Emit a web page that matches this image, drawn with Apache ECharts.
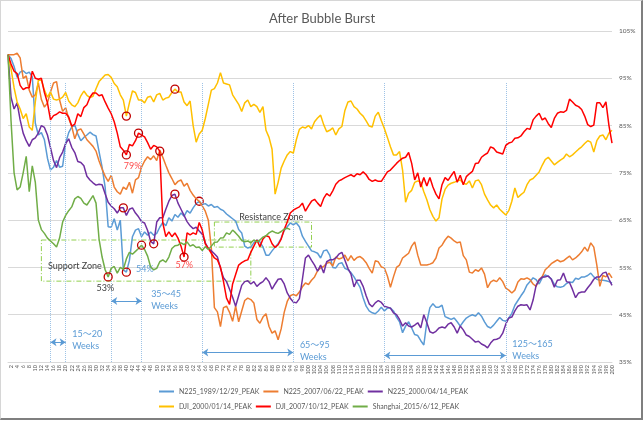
<!DOCTYPE html>
<html><head><meta charset="utf-8">
<script src="https://cdn.jsdelivr.net/npm/echarts@6.0.0/dist/echarts.min.js"></script>
<style>
html,body{margin:0;padding:0;background:#fff}
#c{width:644px;height:421px;position:absolute;left:0;top:0}
#f{position:absolute;left:0;top:0;width:640px;height:417px;border:1px solid #d6d6d6;border-right:2px solid #7f7f7f;border-bottom:2px solid #7f7f7f;pointer-events:none}
</style>
</head><body><div id="c"></div><div id="f"></div>
<script>
// ---- data ----
const weeks = Array.from({length: 200}, (_, i) => String(i + 1));
const yTicks = {min: 35, max: 105, step: 10};
const seriesNames = ['N225_1989/12/29_PEAK','N225_2007/06/22_PEAK','N225_2000/04/14_PEAK','DJI_2000/01/14_PEAK','DJI_2007/10/12_PEAK','Shanghai_2015/6/12_PEAK'];

const n225_1989 = [100,99.2,97.5,95.2,96.3,96.6,96,96.3,95.3,85.5,
 83,83.5,82,78.1,75.6,76.2,77.6,76.2,76.4,81.3,
 83.5,84.7,85.1,83.2,81.8,82.5,83,83.6,83.1,82.8,
 79.5,76.2,72,63.6,63.5,65.3,62.9,65,54.5,54,
 56.5,61.5,62.9,63.2,61.5,62.5,61.8,62.5,61.8,62.2,
 63.5,64.5,63.8,65.5,64.8,66.2,65.6,66.5,65.8,67,
 66.5,67.6,68.5,69,68.3,68.5,68,68.3,67.7,67.9,
 67.3,67,66.3,65.8,65.3,64.8,63,62.3,59.5,59.1,
 59.3,60.2,60.8,60.4,59.3,57.6,57.6,58.5,59.3,60,
 61.2,62.8,63.6,64.4,64,64.4,63.6,61.6,60.5,59.5,
 58.5,58.3,58,57,58.5,58.7,57.6,55,54.9,55.8,
 56,54.8,54.5,53.9,53,51.9,50.8,48.6,46.8,45.8,
 45.4,45.2,45.8,46.6,45.8,46.4,46.4,45.8,44.5,43.5,
 41.2,42.6,43.5,42.2,40.8,40.6,39.5,38.6,43.5,46.5,
 47.3,46.6,46.6,47,44.6,44.3,44,44.3,43.5,42.6,
 43.5,44.3,44.7,45,44.7,45.4,44.7,43.5,42.5,42.2,
 42.8,43.6,44.4,43.8,43.6,44.3,45.3,47,48,49,
 49.9,51.3,52,52.8,52.4,51.5,52.8,53.4,53.1,52.6,
 51.4,50.9,50.8,51,51.6,51.9,51.8,52.7,52.5,53,
 53,53.3,53.8,53,52.5,52.3,52.3,52.2,52,51.7];

const n225_2007 = [100,100,100,100.3,99.3,95,95.5,92.5,91,91.5,
 94,90.5,88.9,89.8,92.1,94,94.3,90.4,88,88.8,
 86.5,84.8,82.2,84,84.3,83.2,82,81.3,80.6,79.6,
 77.5,75.8,74.3,73.2,74.5,72,71,70.5,72,71.5,
 73,70.7,73.5,74,76.2,77.5,78.4,77.8,78.6,77.6,
 79.8,78.3,76.6,75,73.8,72.5,73.2,73.5,72.2,72.8,
 71.3,70.3,69.5,69,68,66.9,65,59,46.5,45.6,
 42.5,46.5,46.8,45.5,43.6,46.8,43.5,45.8,48,48.5,
 48.2,47.5,44,43.2,44.5,45.2,42.5,41.1,41.6,39.7,
 42,45.5,47.8,49,49.3,49,49.8,50.9,51.7,51.4,
 52.3,53,54.3,54.9,55.2,55.9,56.1,55.3,57.2,56.8,
 57,57.6,56.4,57.5,56.5,57.1,57.3,56.8,56,54.8,
 53.8,56.4,56.2,55.1,54.9,53.2,50.8,53,55,55.5,
 57,57.5,58,59.5,60.4,57.6,55.5,55.5,55.5,55.7,
 56,57,59.1,59.7,60.8,61.6,61.2,60.6,60.2,60.4,
 57.5,56.6,54,53.8,54.5,54.2,54.9,53.6,50.7,51.9,
 52.3,52,52.8,52,50.6,50.2,49.6,50.2,51.9,52.6,
 52.5,52.8,52.4,51.5,51,52.5,53,54.5,55.1,55.8,
 56.2,56.6,56.2,56.4,56.9,57.4,56.6,57,57.6,58.3,
 59.3,58.4,60.2,59.3,55.5,51,53.3,53,53.8,52.8];

const n225_2000 = [100,91,88.5,89.8,86.2,83.4,81.8,80.6,82,82.4,
 83.4,85,84.6,83,80.3,77.6,76.1,78.2,79.4,81.2,
 82.2,80.4,79.3,77.4,77.2,76.5,74.3,73.5,72.9,72.4,
 72.6,72.5,70.6,68.8,68,67.4,66.5,67.6,67.6,66,
 67.3,67.6,66.5,65.7,64.7,64.4,62.8,60.5,60,64.6,
 65.5,65.5,67.3,69,70.2,70.5,68.6,67.3,66,64.7,
 63.8,63.2,63.5,62.7,62,60.2,59,58.5,57.9,57.2,
 54.8,52.8,52,50.4,48.7,46.8,49,51.2,52,52.2,
 51.5,52,51,51.6,52,52.8,52,50.4,51.5,52.5,
 52.6,51.5,49.6,48.5,47.7,47.5,48.4,52.5,57,57.6,
 56.5,55.5,54.2,55.5,53.8,56.2,56.6,56.6,57,57.8,
 58.2,56.5,54.8,53.6,50.9,52.3,52.3,51,49,47.3,
 46.7,47.5,48,47.6,46.8,46.6,46.4,45.4,45,44,
 42.6,43.3,42.6,42.4,42.8,43.3,42.2,45,43.3,41.4,
 41.1,41.5,42.2,42.4,42.2,43,43.3,42.4,41.1,42.6,
 41.8,40.7,40.4,39.8,39.2,39.4,38.8,38.5,38,39,
 39.7,39.8,40.1,41.1,43,44.3,44.5,45.8,46.8,47.1,
 47,47.1,46,48.1,51.2,52.3,53,53,53.2,52.5,
 50.8,52.3,52.4,53.8,52,51.8,50.3,48.6,49.6,49.8,
 49.8,50.7,51.5,52.5,53,53,53.8,54,52.5,51.2];

const dji_2000 = [100,97,93,90,88.5,86.5,87.5,84.7,84,90,
 94.6,94.6,92.5,91,92.1,90.6,90.4,90.6,91,92,
 90.2,89.4,89,89.8,91.3,92.3,91.4,90.9,91.2,92.8,
 94.3,95,95.7,95.8,95.2,93.9,93.2,91.5,90.4,87,
 89.8,92.3,92,90.4,90.4,89.8,91,91.2,90,91.5,
 91.8,90.4,90.8,91,92,92.7,92.1,92.1,90,89.2,
 90.2,85,81.5,83.2,84,86.5,89.5,92.5,92.8,94,
 96.2,94,93.8,93.6,91.5,90.5,89.5,88,89.8,90.4,
 89,89.5,89,87.8,89,84,82.5,80,70.5,73,
 76,77.5,78.8,79.5,79.2,82,84.2,84.7,84.5,85,
 84.3,85.8,86.6,87.2,85.2,83.7,84,84.5,83,84.3,
 84.8,88.2,90,90.2,89,88.5,87.6,87,86,84.9,
 84.7,87,87.8,86,84.4,82.5,80.5,78.8,78.8,79.5,
 75.6,68.8,70.7,71.3,73,73.3,73,71,69.3,67.2,
 65.8,64.8,65.5,69.5,71.5,72.4,72.8,73,73.3,73.5,
 72.8,72.6,73.3,71.8,73.3,73.5,72.5,70.5,69.3,68.2,
 67.6,68.2,67.3,66.7,66.1,67,69,71.8,69.8,70.4,
 70.9,72.5,73.5,73.8,74.5,75.2,76.6,77.8,78.3,77.5,
 76.7,77.2,77.7,78.1,79,78.4,78.8,79.4,80,80.5,
 81.2,81.8,81.5,79.4,81.8,82.8,83,82,83.4,84];

const dji_2007 = [100,98,96.5,96,93.5,92.6,93,93,96.5,95,
 94.8,95,92,89.8,86.2,87.1,87.4,87.9,87.6,87.6,
 86.8,84.9,85.3,87.5,86.9,88.8,89.4,91,91.9,91.9,
 91.3,91.5,90,88.7,87.5,85.8,83.4,80.5,79.8,78.8,
 81,80.7,81.8,83.4,83,82.6,81.4,80,80.8,80.5,
 79.6,64.4,61.5,62.5,61.5,62.3,61.2,59.5,57.2,62.3,
 61.9,62.3,62,64.5,62.9,60,59,58,57,56.6,
 55.1,52,48.5,47.2,51.5,53.5,55.5,56,56.4,56.6,
 58.2,59.5,60.8,59.4,61,61.7,61.5,60,59.2,59.8,
 61,63,64.6,66.5,67.1,67.5,67.8,68.6,66.9,68,
 69,69.4,68.6,67.9,69.6,70.6,70.1,71.2,72.6,73.3,
 73.6,74,74.3,74.6,74.2,74.8,74.6,75.2,74.6,73.6,
 73.2,73.5,73.2,73.2,74.2,75.2,75.6,76.3,77,77.6,
 78.1,78.3,79.3,77,73.5,75,72,74,72.2,74,
 72,70.5,69.5,72.5,74,73.4,74.4,75.3,73,74.5,
 72.5,74.2,74.8,75.3,77,77.1,78.3,78.8,79.2,80.5,
 80.2,79.4,79.2,79,80.8,81.3,81.5,82.3,82.4,82.8,
 83.7,84.4,84.2,86.2,87,87.6,86.2,86.6,85.4,84.6,
 86.5,87.6,87.9,87.8,88.2,90.6,90,89.3,89,88.4,
 87,85.2,84.8,85.1,89.8,89.8,88.8,90,85,81.3];

const shanghai_2015 = [100,86,75,71.4,72,75,78.5,71,76.5,73,
 65,63,62.2,61.2,60.6,60,59.3,61.2,64.6,66,
 67,67.8,69.5,70,69.6,68.6,68.2,69.2,70.2,68.6,
 61,57.2,54.5,53,54.8,55.2,53.8,55,54.6,56.8,
 58.2,57.8,58.4,59,59.7,58.8,57.4,55.1,54.5,54.8,
 56.2,56.6,56.1,57.2,59,59.6,59.7,60.2,59.8,60.4,
 59.5,59.8,59.2,59.3,58.6,59.4,58.8,59.5,60.3,60.4,
 61.2,61.3,62.3,62,62.9,62.3,61.6,60.7,60.4,60.6,
 60.2,60.8,60.4,60.8,61.4,61.7,62.3,62.7,62.4,62.2,
 62.6,63.1,63.3,63];

// circled points (week numbers) per series
const circledWeeks = [[40,64],[],[39,49,56],[40,56],[40,44,51,59],[34,45]];
// vertical guides and spans (weeks), annotation texts
const guideWeeks = [15,20,35,45,65,95,125,165];
const guideTop = 94;
const spans = [[15,20,39.2],[35,45,47.9],[65,95,37],[125,165,36.4]];
const zones = [[12,81,60.8,52.1],[69,101,64.6,59.3]];
const notes = [
  ['15～20\nWeeks',22,39.7,'#5B9BD5','left'],
  ['35～45\nWeeks',47.5,48.0,'#5B9BD5','left'],
  ['65～95\nWeeks',97,37.3,'#5B9BD5','left'],
  ['125～165\nWeeks',167,37.5,'#5B9BD5','left'],
  ['Support Zone',14,55.3,'#404040','left'],
  ['Resistance Zone',76.5,65.7,'#404040','left'],
  ['53%',30,50.7,'#404040','left'],
  ['54%',42.5,54.7,'#5B9BD5','left'],
  ['57%',55.5,55.5,'#FF4B4B','left'],
  ['79%',39,76.5,'#FF4B4B','left']
];

// ---- build ----
const colors = ['#5B9BD5','#ED7D31','#7030A0','#FFC000','#FF0000','#70AD47'];
const values = [n225_1989,n225_2007,n225_2000,dji_2000,dji_2007,shanghai_2015];
const FONT = 'Lato, "Noto Sans CJK JP", sans-serif';

const series = values.map((arr, si) => ({
  name: seriesNames[si],
  type: 'line',
  silent: true,
  symbol: 'none',
  showSymbol: true,
  showAllSymbol: true,
  lineStyle: {width: 1.5, color: colors[si]},
  itemStyle: {color: colors[si]},
  emphasis: {disabled: true},
  z: 2 + si,
  data: arr.map((v, i) => circledWeeks[si].includes(i + 1)
    ? {value: v, symbol: 'circle', symbolSize: 8,
       itemStyle: {color: 'rgba(0,0,0,0)', borderColor: '#C00000', borderWidth: 1.3}}
    : v)
}));

series[0].markLine = {
  silent: true, symbol: 'none', animation: false,
  label: {show: false},
  lineStyle: {type: 'dotted', color: '#9DC3E6', width: 1},
  data: guideWeeks.map(w => [{coord: [w - 1, guideTop]}, {coord: [w - 1, yTicks.min]}])
    .concat(spans.map(s => [
      {coord: [s[0] - 1, s[2]], symbol: 'arrow', symbolSize: 6, lineStyle: {type: 'solid', color: '#5B9BD5', width: 1}},
      {coord: [s[1] - 1, s[2]], symbol: 'arrow', symbolSize: 6}
    ]))
};
series[0].markArea = {
  silent: true, animation: false,
  label: {show: false},
  itemStyle: {color: 'rgba(0,0,0,0)', borderColor: '#92D050', borderWidth: 1, borderType: [5, 2, 1, 2]},
  data: zones.map(z => [{coord: [z[0] - 1, z[2]]}, {coord: [z[1] - 1, z[3]]}])
};
series[0].markPoint = {
  silent: true, animation: false,
  symbol: 'rect', symbolSize: 1,
  itemStyle: {color: 'rgba(0,0,0,0)'},
  data: notes.map(n => ({
    coord: [n[1] - 1, n[2]],
    label: {show: true, position: 'right', distance: 0, formatter: n[0], color: n[3],
      fontFamily: FONT, fontSize: 9, lineHeight: 12, align: 'left'}
  }))
};

const legendBase = {
  left: 159, itemWidth: 15, itemHeight: 2, itemGap: 4, icon: 'rect',
  textStyle: {fontSize: 7, color: '#595959', fontFamily: FONT, width: 85},
  selectedMode: false, padding: 0
};

const chart = echarts.init(document.getElementById('c'), null, {renderer: 'canvas'});
chart.setOption({
  animation: false,
  color: colors,
  title: {text: 'After Bubble Burst', left: 'center', top: 7,
    textStyle: {fontSize: 13, fontWeight: 'normal', color: '#595959', fontFamily: FONT}},
  legend: [
    Object.assign({}, legendBase, {top: 388, data: seriesNames.slice(0, 3)}),
    Object.assign({}, legendBase, {top: 403, data: seriesNames.slice(3)})
  ],
  grid: {left: 8, right: 32, top: 31, bottom: 59, containLabel: false, outerBoundsMode: 'none'},
  xAxis: {
    type: 'category', data: weeks, boundaryGap: false,
    axisLine: {lineStyle: {color: '#D9D9D9'}},
    axisTick: {show: false},
    axisLabel: {interval: (i) => i % 2 === 1, rotate: 90, fontSize: 5.5, color: '#595959',
      fontFamily: FONT, margin: 3},
    splitLine: {show: false}
  },
  yAxis: {
    type: 'value', position: 'right', min: yTicks.min, max: yTicks.max, interval: yTicks.step,
    axisLine: {show: false}, axisTick: {show: false},
    axisLabel: {formatter: '{value}%', fontSize: 6.5, color: '#595959', fontFamily: FONT, margin: 7},
    splitLine: {lineStyle: {color: '#D9D9D9', width: 1}}
  },
  series: series
});
</script></body></html>
